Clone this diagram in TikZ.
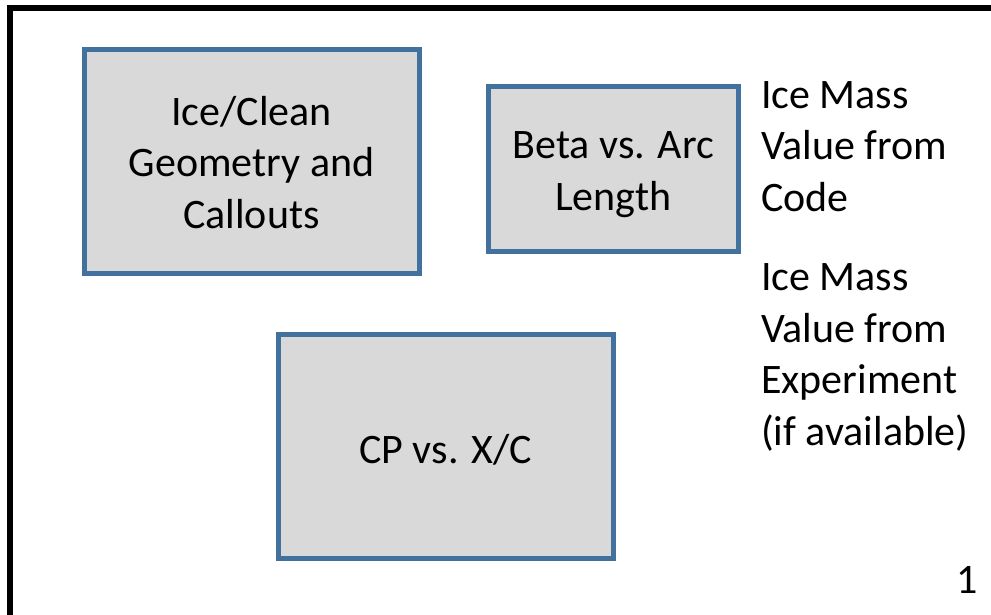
\documentclass[tikz,border=0pt]{standalone}
\usepackage{fontspec}
\setmainfont{Carlito}
\usepackage{xcolor}
\definecolor{boxline}{HTML}{41719C}
\definecolor{boxfill}{HTML}{D9D9D9}
\newcommand{\SlideFont}{\fontsize{42pt}{51.5pt}\selectfont}

\begin{document}
\begin{tikzpicture}[x=1pt, y=-1pt,
    plot/.style={draw=boxline, fill=boxfill, line width=5pt, rectangle,
                 inner sep=0pt},
    caption/.style={align=center, inner sep=0pt, font=\SlideFont, anchor=base},
    note/.style={align=left, inner sep=0pt, font=\SlideFont, anchor=base west}]
  \useasboundingbox (0, 0) rectangle (991, 614);
  \clip (0, 0) rectangle (991, 614);
  \draw[line width=6pt] (10, 1000) -- (10, 8) -- (1100, 8);
  % plot placeholders
  \node[plot, minimum width=335pt, minimum height=224pt]   (geom) at (251.5, 161) {};
  \node[plot, minimum width=249.5pt, minimum height=165.5pt] (beta) at (613.25, 168.75) {};
  \node[plot, minimum width=335pt, minimum height=224.5pt] (cp)   at (445.5, 446.25) {};
  \node[caption] (geomtext) at (geom.center |- 0, 228) {Ice/Clean\\Geometry and\\Callouts};
  \node[caption] (betatext) at (beta.center |- 0, 210) {Beta vs. Arc\\Length};
  \node[caption] (cptext)   at (cp.center |- 0, 463)   {CP vs. X/C};
  % ice mass values
  \node[note] (code) at (761, 211) {Ice Mass\\Value from\\Code};
  \node[note] (exp)  at (761, 445) {Ice Mass\\Value from\\Experiment\\(if available)};
  \node[font=\SlideFont, inner sep=0pt, anchor=base] (page) at (967, 593) {1};
\end{tikzpicture}
\end{document}
